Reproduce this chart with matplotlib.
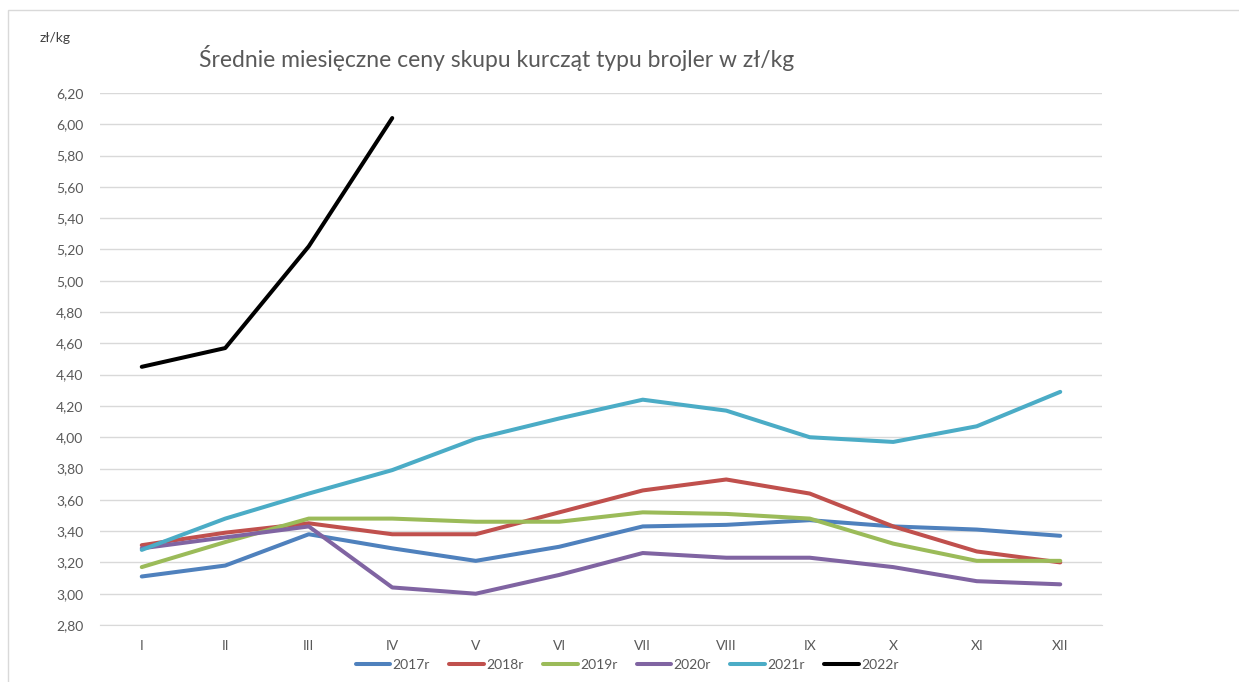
import matplotlib
matplotlib.use("Agg")
import matplotlib.pyplot as plt
from matplotlib.patches import Rectangle
from matplotlib.ticker import FuncFormatter

months = ["I", "II", "III", "IV", "V", "VI", "VII", "VIII", "IX", "X", "XI", "XII"]
s2017 = [3.11, 3.18, 3.38, 3.29, 3.21, 3.30, 3.43, 3.44, 3.47, 3.43, 3.41, 3.37]
s2018 = [3.31, 3.39, 3.45, 3.38, 3.38, 3.52, 3.66, 3.73, 3.64, 3.43, 3.27, 3.20]
s2019 = [3.17, 3.33, 3.48, 3.48, 3.46, 3.46, 3.52, 3.51, 3.48, 3.32, 3.21, 3.21]
s2020 = [3.29, 3.36, 3.43, 3.04, 3.00, 3.12, 3.26, 3.23, 3.23, 3.17, 3.08, 3.06]
s2021 = [3.28, 3.48, 3.64, 3.79, 3.99, 4.12, 4.24, 4.17, 4.00, 3.97, 4.07, 4.29]
s2022 = [4.45, 4.57, 5.22, 6.04]
series_names = ["2017r", "2018r", "2019r", "2020r", "2021r", "2022r"]
series = [s2017, s2018, s2019, s2020, s2021, s2022]
colors = ["#4F81BD", "#C0504D", "#9BBB59", "#8064A2", "#4BACC6", "#000000"]

plt.rcParams['font.family'] = ['Lato', 'DejaVu Sans']

W, H = 1239, 682
fig = plt.figure(figsize=(W / 100, H / 100), dpi=100)
fig.patches.append(Rectangle((8 / W, -0.05), 1.1, 1 - 10 / H + 0.05, transform=fig.transFigure,
                             fill=False, edgecolor="#d9d9d9", linewidth=1.0))

ax = fig.add_axes([100 / W, 1 - 625 / H, (1102 - 100) / W, (625 - 93) / H])
x = list(range(len(months)))
for name, vals, c in zip(series_names, series, colors):
    ax.plot(x[:len(vals)], vals, color=c, lw=2.9, label=name, solid_capstyle="round",
            solid_joinstyle="round")

ax.set_xlim(-0.5, 11.5)
ax.set_ylim(2.80, 6.20)
ax.set_yticks([2.80 + 0.2 * i for i in range(18)])
ax.yaxis.set_major_formatter(FuncFormatter(lambda v, p: f"{v:.2f}".replace(".", ",")))
ax.set_xticks(x)
ax.set_xticklabels(months)
ax.grid(axis="y", color="#d9d9d9", lw=1.0)
ax.set_axisbelow(True)
for s in ["top", "right", "left"]:
    ax.spines[s].set_visible(False)
ax.spines["bottom"].set_color("#d9d9d9")
ax.tick_params(axis="both", length=0, colors="#595959", labelsize=10)
ax.tick_params(axis="y", pad=12)
ax.tick_params(axis="x", pad=11)

fig.text(40 / W, 1 - 38 / H, "zł/kg", fontsize=10, color="#404040", va="center", ha="left")
fig.text(497 / W, 1 - 58 / H, "Średnie miesięczne ceny skupu kurcząt typu brojler w zł/kg",
         fontsize=16.5, color="#595959", ha="center", va="center")

leg = ax.legend(loc="center", bbox_to_anchor=(0.526, 1 - (665 - 93) / (625 - 93)), ncol=6,
                frameon=False, fontsize=10, handlelength=2.5, handletextpad=0.15,
                columnspacing=1.4, labelcolor="#595959")

fig.savefig("out.png", dpi=100)
